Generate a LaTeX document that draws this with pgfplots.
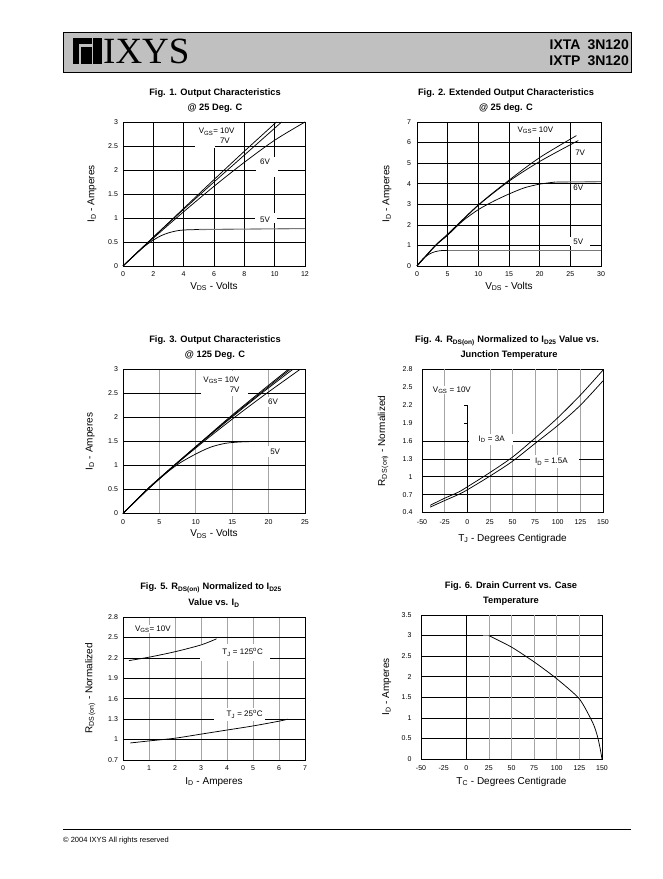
\documentclass[border=0pt]{standalone}
\usepackage{pgfplots}
\pgfplotsset{compat=1.18}
\usepackage{fontspec}
\setmainfont{Liberation Sans}
\newfontfamily\serifx{Liberation Serif}
\definecolor{hdrgray}{RGB}{192,192,192}
\definecolor{gridgray}{RGB}{165,165,165}
\definecolor{flatgray}{RGB}{120,120,120}
\pgfplotsset{
  ds/.style={
    scale only axis,
    anchor=south west,
    /pgf/number format/assume math mode=true,
    tick label style={font=\fontsize{7}{8}\selectfont},
    xticklabel style={yshift=-2.5pt},
    label style={font=\fontsize{10}{12}\selectfont},
    tick style={draw=none},
    axis line style={line width=0.8pt},
    clip=false,
    x label style={at={(axis description cs:0.5,-0.16)},anchor=base},
  },
  crv/.style={black, line width=0.75pt, smooth, mark=none},
  flat/.style={flatgray, line width=1.1pt, mark=none},
}
\tikzset{lbl/.style={font=\fontsize{8}{9}\selectfont, inner sep=0.5pt}}
\begin{document}
\begin{tikzpicture}[x=1pt,y=1pt]
\path[use as bounding box, fill=white] (0,0) rectangle (662,879);
% header
\filldraw[fill=hdrgray, draw=black, line width=0.8pt] (63,807) rectangle (631,847);
\fill[black] (73.3,840.7) rectangle (91.7,834.7);
\fill[black] (73.3,834.7) rectangle (79.3,815);
\fill[black] (81.3,832.3) rectangle (91.7,815);
\fill[black] (93.3,840.7) rectangle (101.7,815);
\node[anchor=base west, inner sep=0, font=\serifx\fontsize{37}{37}\selectfont] at (103,815.7) {IXYS};
\node[anchor=base east, inner sep=0, font=\bfseries\fontsize{14}{14}\selectfont] at (629,829) {IXTA\hspace{7pt}3N120};
\node[anchor=base east, inner sep=0, font=\bfseries\fontsize{14}{14}\selectfont] at (629,813) {IXTP\hspace{7pt}3N120};
% footer
\draw[line width=0.6pt] (63,50) -- (631,50);
\node[anchor=base west, inner sep=0, font=\fontsize{7.5}{8}\selectfont] at (63,36) {\textcopyright\ 2004 IXYS All rights reserved};
% titles
\tikzset{ttl/.style={anchor=base, inner sep=0, font=\bfseries\fontsize{9.3}{10}\selectfont}}
\node[ttl] at (215,783.5) {Fig. 1. Output Characteristics};
\node[ttl] at (215,768.5) {@ 25 Deg. C};
\node[ttl] at (506,783.5) {Fig. 2. Extended Output Characteristics};
\node[ttl] at (506,768.5) {@ 25 deg. C};
\node[ttl] at (215,536) {Fig. 3. Output Characteristics};
\node[ttl] at (215,521) {@ 125 Deg. C};
\node[ttl] at (507,536) {Fig. 4. R\textsubscript{DS(on)} Normalized to I\textsubscript{D25} Value vs.};
\node[ttl] at (509,521) {Junction Temperature};
\node[ttl] at (211,289) {Fig. 5. R\textsubscript{DS(on)} Normalized to I\textsubscript{D25}};
\node[ttl] at (214,273) {Value vs. I\textsubscript{D}};
\node[ttl] at (511,290.5) {Fig. 6. Drain Current vs. Case};
\node[ttl] at (511,275.5) {Temperature};

% ---------- Fig 1
\begin{axis}[ds, at={(123pt,613pt)}, width=182pt, height=144pt,
  xmin=0,xmax=12,ymin=0,ymax=3, xtick={0,2,...,12}, ytick={0,0.5,...,3},
  grid=major, grid style={black, line width=0.7pt},
  yticklabel style={xshift=-1.5pt},
  xlabel={V\textsubscript{DS} - Volts}, ylabel={I\textsubscript{D} - Amperes},
  y label style={at={(axis description cs:-0.17,0.5)},anchor=center}]
\fill[white] (axis cs:4.73,2.45) rectangle (axis cs:6.06,2.97);
\fill[white] (axis cs:8.8,1.86) rectangle (axis cs:10.24,2.27);
\fill[white] (axis cs:8.7,0.9) rectangle (axis cs:10.13,1.1);
\node[lbl] at (axis cs:6.17,2.8) {V\textsubscript{GS}= 10V};
\node[lbl] at (axis cs:6.72,2.6) {7V};
\node[lbl] at (axis cs:9.36,2.17) {6V};
\node[lbl] at (axis cs:9.36,0.97) {5V};
\addplot[crv] coordinates {(0,0) (2,0.6) (4,1.2) (6,1.8) (8,2.39) (10.12,3)};
\addplot[crv] coordinates {(0,0) (2,0.6) (4,1.18) (6,1.75) (8,2.31) (10.46,3)};
\addplot[crv] coordinates {(0,0) (2,0.58) (4,1.13) (6,1.66) (8,2.16) (10,2.62) (12,3.0)};
\addplot[crv] coordinates {(0,0) (0.5,0.15) (1,0.3) (1.5,0.43) (2,0.54) (2.5,0.63) (3,0.69) (3.5,0.73) (4,0.75) (5,0.76)};
\addplot[flat] coordinates {(5,0.76) (12,0.78)};
\end{axis}

% ---------- Fig 2
\begin{axis}[ds, at={(417pt,613pt)}, width=184pt, height=144pt,
  xmin=0,xmax=30,ymin=0,ymax=7, xtick={0,5,...,30}, ytick={0,1,...,7},
  grid=major, grid style={black, line width=0.7pt},
  yticklabel style={xshift=-2.5pt},
  xlabel={V\textsubscript{DS} - Volts}, ylabel={I\textsubscript{D} - Amperes},
  y label style={at={(axis description cs:-0.163,0.5)},anchor=center}]
\fill[white] (axis cs:16.5,6.25) rectangle (axis cs:23.5,6.95);
\fill[white] (axis cs:25.3,5.25) rectangle (axis cs:28.5,5.8);
\fill[white] (axis cs:25.3,3.55) rectangle (axis cs:28.5,3.95);
\fill[white] (axis cs:25,0.95) rectangle (axis cs:28.2,1.4);
\node[lbl] at (axis cs:19.3,6.61) {V\textsubscript{GS}= 10V};
\node[lbl] at (axis cs:26.6,5.51) {7V};
\node[lbl] at (axis cs:26.3,3.79) {6V};
\node[lbl] at (axis cs:26.3,1.16) {5V};
\addplot[crv] coordinates {(0,0) (3,1.0) (5,1.55) (10,2.97) (15,4.17) (20,5.27) (26,6.34)};
\addplot[crv] coordinates {(0,0) (3,1.0) (5,1.52) (10,2.95) (15,4.12) (20,5.08) (26.3,6.1)};
\addplot[crv] coordinates {(0,0) (3,0.98) (5,1.5) (7.5,2.2) (10,2.74) (12.5,3.15) (15,3.5) (17.5,3.8) (20,3.98) (22.5,4.08)};
\addplot[flat] coordinates {(22.5,4.08) (30,4.1)};
\addplot[crv] coordinates {(0,0) (0.5,0.2) (1,0.36) (2,0.58) (3,0.7) (4,0.75) (5,0.76)};
\addplot[flat] coordinates {(5,0.76) (30,0.76)};
\end{axis}

% ---------- Fig 3
\begin{axis}[ds, at={(123pt,365.5pt)}, width=182pt, height=144pt,
  xmin=0,xmax=25,ymin=0,ymax=3, xtick={0,5,...,25}, ytick={0,0.5,...,3},
  xmajorgrids, ymajorgrids, x grid style={gridgray, line width=0.7pt}, y grid style={black, line width=0.7pt},
  yticklabel style={xshift=-1.5pt},
  xlabel={V\textsubscript{DS} - Volts}, ylabel={I\textsubscript{D} - Amperes},
  y label style={at={(axis description cs:-0.18,0.5)},anchor=center}]
\fill[white] (axis cs:10.76,2.45) rectangle (axis cs:17.17,2.97);
\fill[white] (axis cs:19.7,2.22) rectangle (axis cs:21.6,2.42);
\fill[white] (axis cs:19.8,1.18) rectangle (axis cs:21.8,1.4);
\node[lbl] at (axis cs:13.5,2.78) {V\textsubscript{GS}= 10V};
\node[lbl] at (axis cs:15.34,2.57) {7V};
\node[lbl] at (axis cs:20.6,2.33) {6V};
\node[lbl] at (axis cs:20.9,1.29) {5V};
\addplot[crv] coordinates {(0,0) (3.3,0.5) (7,1.0) (10.8,1.5) (14.6,2.0) (18.6,2.5) (22.7,3.0)};
\addplot[crv] coordinates {(0,0) (3.3,0.5) (7,1.0) (10.85,1.5) (14.75,2.0) (18.8,2.5) (22.95,3.0)};
\addplot[crv] coordinates {(0,0) (3.3,0.5) (7.05,1.0) (10.9,1.5) (14.9,2.0) (19.0,2.5) (23.3,3.0)};
\addplot[crv] coordinates {(0,0) (3.4,0.5) (7.1,1.0) (11.1,1.5) (15.3,2.0) (19.7,2.5) (24.3,3.0)};
\addplot[crv] coordinates {(0,0) (3.4,0.5) (5,0.72) (6.5,0.91) (8,1.07) (10,1.24) (12,1.38) (14,1.46) (16,1.49) (18,1.5)};
\end{axis}

% ---------- Fig 4
\begin{axis}[ds, at={(422pt,366.5pt)}, width=181pt, height=143pt,
  xmin=-50,xmax=150,ymin=0.4,ymax=2.8, xtick={-50,-25,...,150}, ytick={0.4,0.7,...,2.8},
  extra x ticks={-25,25,50,75,100,125}, extra x tick labels={},
  extra x tick style={xmajorgrids, major grid style={gridgray, line width=0.7pt}},
  extra y ticks={0.7,1,1.3,1.6}, extra y tick labels={},
  extra y tick style={ymajorgrids, major grid style={black, line width=0.7pt}},
  yticklabel style={xshift=-6pt}, xticklabel style={yshift=-1pt},
  xlabel={T\textsubscript{J} - Degrees Centigrade}, ylabel={R\textsubscript{DS\,(on)} - Normalized},
  x label style={at={(axis description cs:0.5,-0.2)}},
  y label style={at={(axis description cs:-0.215,0.5)},anchor=center}]
\draw[black, line width=0.7pt] (axis cs:0,0.4) -- (axis cs:0,2.2);
\draw[black, line width=0.7pt] (axis cs:0,1.9) -- ++(-3pt,0pt);
\draw[black, line width=0.7pt] (axis cs:0,2.2) -- ++(-3pt,0pt);
\fill[white] (axis cs:1.5,1.53) rectangle (axis cs:51,1.71);
\fill[white] (axis cs:69,1.15) rectangle (axis cs:124,1.36);
\node[lbl, fill=white] at (axis cs:-17,2.45) {V\textsubscript{GS} = 10V};
\node[lbl] at (axis cs:27,1.63) {I\textsubscript{D} = 3A};
\node[lbl] at (axis cs:93,1.25) {I\textsubscript{D} = 1.5A};
\addplot[crv] coordinates {(-41,0.52) (-25,0.64) (-10,0.74) (0,0.83) (25,1.07) (50,1.33) (75,1.65) (100,1.99) (125,2.37) (150,2.79)};
\addplot[crv] coordinates {(-41,0.49) (-25,0.6) (-10,0.7) (0,0.78) (25,1.01) (50,1.26) (75,1.56) (100,1.86) (125,2.2) (150,2.61)};
\end{axis}

% ---------- Fig 5
\begin{axis}[ds, at={(123pt,119pt)}, width=182pt, height=143pt,
  xmin=0,xmax=7,ymin=0.7,ymax=2.8, xtick={0,1,...,7}, ytick={0.7,1,1.3,1.6,1.9,2.2,2.5,2.8},
  xmajorgrids, ymajorgrids, x grid style={gridgray, line width=0.7pt}, y grid style={black, line width=0.7pt},
  yticklabel style={xshift=-1.5pt},
  xlabel={I\textsubscript{D} - Amperes}, ylabel={R\textsubscript{DS\,(on)} - Normalized},
  x label style={at={(axis description cs:0.5,-0.168)}},
  y label style={at={(axis description cs:-0.18,0.5)},anchor=center}]
\fill[white] (axis cs:2.95,2.16) rectangle (axis cs:5.64,2.4);
\fill[white] (axis cs:3.5,1.27) rectangle (axis cs:5.45,1.47);
\node[lbl, fill=white] at (axis cs:1.15,2.62) {V\textsubscript{GS}= 10V};
\node[lbl] at (axis cs:4.6,2.28) {T\textsubscript{J} = 125\textsuperscript{o}C};
\node[lbl] at (axis cs:4.68,1.37) {T\textsubscript{J} = 25\textsuperscript{o}C};
\addplot[crv] coordinates {(0.23,2.16) (1,2.21) (2,2.29) (3,2.39) (3.6,2.48)};
\addplot[crv] coordinates {(0.28,0.95) (1,0.98) (2,1.02) (3,1.08) (4,1.14) (5,1.2) (6,1.27) (6.35,1.3)};
\end{axis}

% ---------- Fig 6
\begin{axis}[ds, at={(421pt,120pt)}, width=181pt, height=144pt,
  xmin=-50,xmax=150,ymin=0,ymax=3.5, xtick={-50,-25,...,150}, ytick={0,0.5,...,3.5},
  ymajorgrids, y grid style={black, line width=0.7pt},
  extra x ticks={25,50,75,100,125}, extra x tick labels={},
  extra x tick style={xmajorgrids, major grid style={gridgray, line width=0.7pt}},
  yticklabel style={xshift=-6pt}, xticklabel style={yshift=-1pt},
  xlabel={T\textsubscript{C} - Degrees Centigrade}, ylabel={I\textsubscript{D} - Amperes},
  x label style={at={(axis description cs:0.5,-0.175)}},
  y label style={at={(axis description cs:-0.19,0.5)},anchor=center}]
\draw[black, line width=0.8pt] (axis cs:0,0) -- (axis cs:0,3.5);
\addplot[flat, line width=0.9pt] coordinates {(19,3.0) (25,3.0)};
\addplot[crv, tension=0.4] coordinates {(25,3.0) (50,2.72) (75,2.36) (100,1.95) (125,1.46) (140,0.87) (145,0.55) (148,0.25) (150,0)};
\end{axis}
\end{tikzpicture}
\end{document}
